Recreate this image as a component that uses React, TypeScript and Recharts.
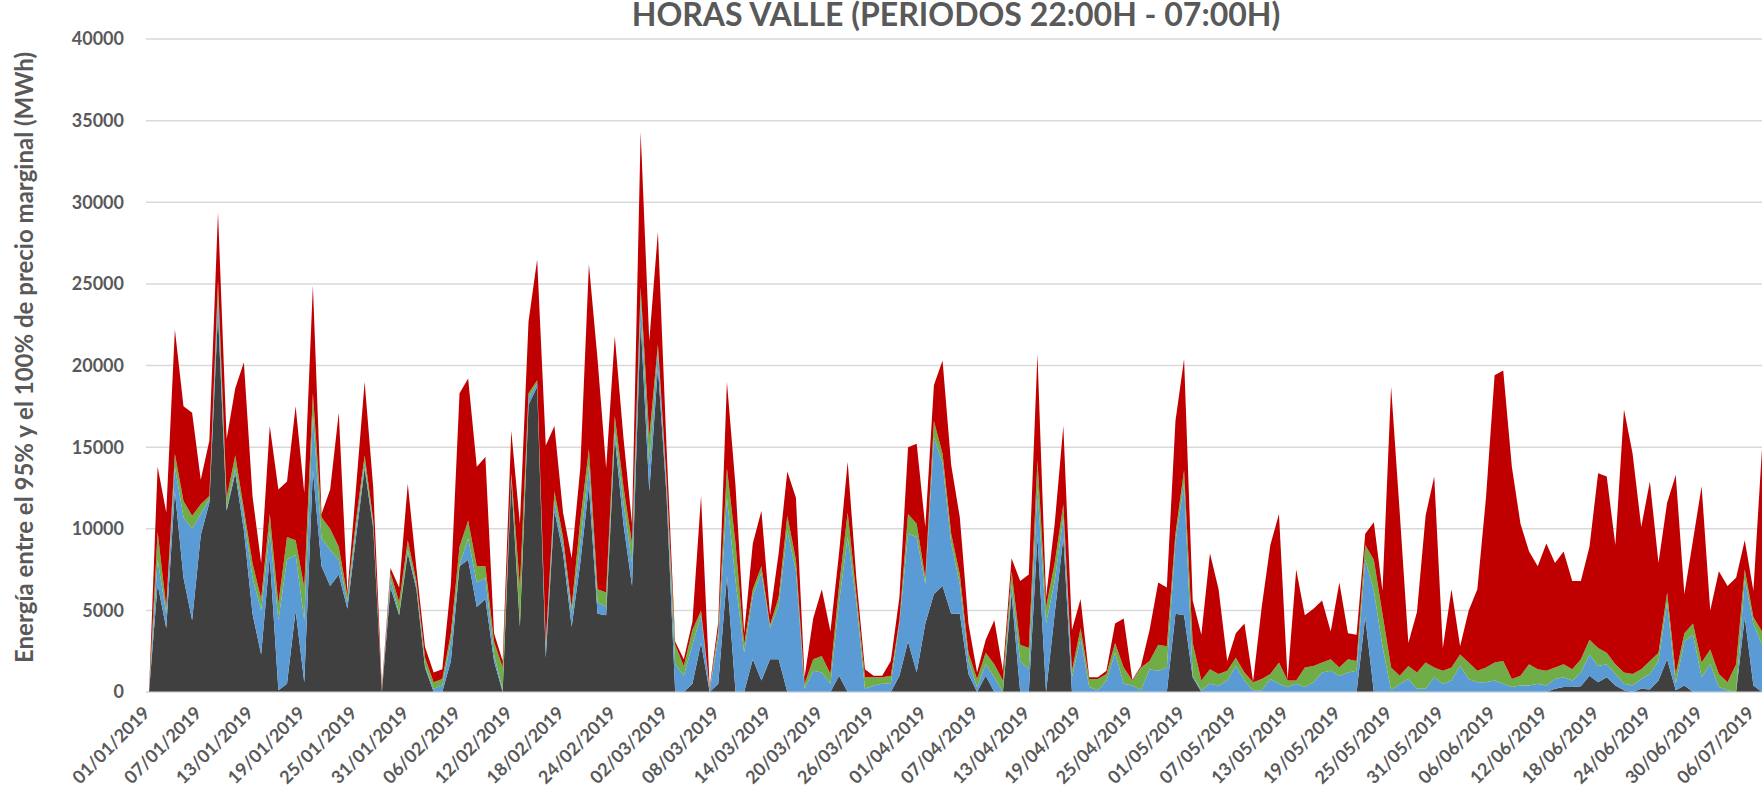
import { AreaChart, Area, XAxis, YAxis, CartesianGrid } from "recharts";

// Daily values (MWh), 01/01/2019 .. 07/07/2019, one entry per day
const gris = [
  0, 6600, 3900, 12300, 7000, 4400, 9600, 11600, 23200, 11100, 13400, 9900,
  4800, 2300, 8300, 100, 500, 5000, 600, 13600, 7700, 6500, 7200, 5100,
  9500, 13700, 10000, 0, 6400, 4700, 8500, 6300, 1500, 0, 0, 1900,
  7700, 8100, 5200, 5700, 1900, 0, 13000, 4000, 17600, 18700, 2100, 11100,
  8500, 4000, 7900, 12600, 4800, 4700, 15600, 10300, 6500, 22700, 12300, 19900,
  12000, 0, 0, 500, 3000, 0, 500, 7100, 0, 0, 2000, 700,
  2000, 2000, 0, 0, 0, 0, 0, 0, 1000, 0, 0, 0,
  0, 0, 0, 1000, 3100, 1200, 4200, 6000, 6500, 4800, 4800, 1100,
  0, 1000, 0, 0, 6000, 0, 0, 9500, 0, 4800, 9500, 0,
  0, 0, 0, 0, 0, 0, 0, 0, 0, 0, 0, 4800,
  4700, 900, 0, 0, 0, 0, 0, 0, 0, 0, 0, 0,
  0, 0, 0, 0, 0, 0, 0, 0, 0, 4600, 0, 0,
  0, 0, 0, 0, 0, 0, 0, 0, 0, 0, 0, 0,
  0, 0, 0, 0, 0, 0, 0, 200, 300, 300, 350, 1000,
  600, 900, 400, 100, 0, 200, 150, 700, 2000, 100, 400, 0,
  0, 0, 0, 0, 0, 4600, 400, 0,
];

const azul = [
  0, 1500, 900, 1500, 3700, 5600, 1300, 200, 1200, 100, 300, 800,
  2200, 2700, 1600, 4300, 7600, 3400, 3800, 3400, 1700, 2200, 900, 400,
  500, 300, 200, 50, 500, 100, 200, 200, 100, 200, 400, 1200,
  100, 1300, 1500, 1300, 400, 100, 200, 100, 400, 200, 500, 600,
  500, 800, 1200, 1300, 700, 500, 400, 1300, 1400, 1400, 1600, 1000,
  600, 1700, 1000, 2400, 1700, 100, 2800, 4800, 6800, 2400, 3900, 6600,
  1900, 3300, 9900, 7400, 200, 1300, 1200, 500, 4500, 9500, 5500, 200,
  400, 500, 500, 3200, 6600, 8300, 2400, 9600, 7500, 4300, 1800, 800,
  300, 700, 900, 0, 600, 1900, 1400, 3000, 4200, 2000, 1200, 900,
  3300, 300, 100, 700, 2400, 500, 400, 100, 1400, 1300, 1500, 4400,
  8100, 100, 100, 500, 400, 700, 1600, 700, 100, 100, 800, 500,
  300, 500, 300, 600, 1200, 1300, 1000, 1200, 1300, 3500, 6200, 2800,
  100, 500, 800, 200, 200, 900, 500, 700, 1600, 800, 600, 600,
  700, 500, 300, 400, 400, 500, 400, 600, 600, 400, 850, 1300,
  1000, 800, 700, 400, 400, 600, 950, 1200, 3500, 400, 2700, 3500,
  900, 1700, 300, 100, 0, 2300, 3800, 2900,
];

const verde = [
  0, 1700, 400, 800, 1000, 800, 600, 200, 800, 700, 800, 500,
  900, 700, 1000, 1000, 1400, 900, 2000, 1300, 1300, 1300, 800, 400,
  500, 500, 300, 50, 400, 700, 600, 300, 500, 400, 400, 500,
  1100, 1100, 1000, 700, 800, 1400, 200, 2300, 300, 200, 400, 600,
  500, 400, 1400, 1000, 800, 900, 900, 1000, 1200, 700, 1700, 400,
  400, 1200, 600, 900, 300, 100, 500, 1800, 2300, 500, 400, 400,
  200, 500, 900, 700, 300, 700, 1000, 600, 1000, 1500, 500, 700,
  500, 400, 500, 200, 1200, 800, 400, 1000, 600, 600, 600, 500,
  500, 700, 800, 700, 800, 1000, 1300, 1700, 1000, 1100, 800, 400,
  600, 500, 700, 400, 600, 1000, 300, 1400, 500, 1600, 1300, 500,
  800, 2000, 600, 900, 700, 600, 500, 500, 500, 700, 300, 1300,
  400, 200, 1200, 1000, 600, 700, 500, 800, 600, 900, 1900, 2000,
  1400, 500, 800, 1000, 1600, 600, 800, 800, 700, 1000, 700, 900,
  1100, 1400, 500, 600, 1300, 900, 900, 700, 800, 700, 800, 900,
  1100, 700, 600, 700, 700, 600, 800, 500, 600, 600, 500, 700,
  900, 900, 800, 500, 1700, 600, 400, 800,
];

const rojo = [
  0, 4000, 5800, 7600, 5800, 6300, 1500, 3400, 4200, 3600, 4100, 9000,
  4100, 2200, 5400, 7000, 3400, 8200, 5800, 6600, 200, 2400, 8200, 200,
  2000, 4500, 2000, 200, 300, 900, 3450, 800, 650, 600, 600, 3000,
  9400, 8700, 6100, 6700, 500, 400, 2600, 3900, 4400, 7400, 12100, 4000,
  1500, 3000, 3200, 11300, 14100, 7600, 4900, 3000, 1200, 9500, 5900, 6900,
  2000, 200, 400, 500, 7000, 100, 500, 5300, 3500, 700, 2800, 3400,
  600, 2700, 2700, 3800, 400, 2500, 4100, 2600, 2000, 3100, 1000, 500,
  100, 100, 900, 1400, 4100, 4900, 3100, 2200, 5700, 4200, 3500, 1800,
  400, 800, 2700, 600, 800, 3900, 4500, 6500, 600, 2400, 4800, 2500,
  1800, 100, 100, 200, 1200, 3000, 50, 100, 1900, 3800, 3600, 6900,
  6800, 2600, 2800, 7100, 5200, 600, 1500, 3000, 50, 4400, 7900, 9100,
  50, 6800, 3200, 3500, 3800, 1700, 5200, 1600, 1600, 700, 2300, 1400,
  17200, 10000, 1400, 3700, 9000, 11700, 1400, 4800, 500, 3200, 5000, 10400,
  17600, 17800, 13000, 9300, 6900, 6300, 7800, 6400, 6900, 5400, 4800, 5700,
  10700, 10800, 7300, 16100, 13500, 8700, 11000, 5500, 5500, 12200, 2400, 5100,
  10800, 2400, 6300, 5900, 5300, 1800, 1600, 11200,
];

const yTicks = [0, 5000, 10000, 15000, 20000, 25000, 30000, 35000, 40000];

const pad = (n: number) => (n < 10 ? "0" + n : "" + n);
const fechas = gris.map((_, i) => {
  const d = new Date(Date.UTC(2019, 0, 1 + i));
  return `${pad(d.getUTCDate())}/${pad(d.getUTCMonth() + 1)}/${d.getUTCFullYear()}`;
});

const data = fechas.map((fecha, i) => ({
  fecha,
  gris: gris[i],
  azul: azul[i],
  verde: verde[i],
  rojo: rojo[i],
}));

const FONT = "Lato, 'Open Sans', sans-serif";
const TXT = "#595959";

function DateTick({ x, y, payload }: any) {
  const tx = x + 2;
  const ty = y + 22;
  return (
    <text
      x={tx}
      y={ty}
      textAnchor="end"
      transform={`rotate(-45, ${tx}, ${ty})`}
      fill={TXT}
      fontSize={18}
      fontWeight={700}
      fontFamily={FONT}
    >
      {payload.value}
    </text>
  );
}

function YLabel({ viewBox }: any) {
  const cy = viewBox.y + viewBox.height / 2 - 8;
  return (
    <text
      x={33}
      y={cy}
      textAnchor="middle"
      transform={`rotate(-90, 33, ${cy})`}
      fill={TXT}
      fontSize={24}
      fontWeight={700}
      fontFamily={FONT}
    >
      Energía entre el 95% y el 100% de precio marginal (MWh)
    </text>
  );
}

export default function App() {
  return (
    <div style={{ position: "absolute", left: 0, top: 0, width: 1764, height: 797, background: "#fff" }}>

      {/* TITLE */}

      <div
        style={{
          position: "absolute",
          top: -2,
          left: 0,
          width: 1764,
          paddingLeft: 148,
          boxSizing: "border-box",
          textAlign: "center",
          fontFamily: FONT,
          fontWeight: 700,
          fontSize: 32,
          lineHeight: "32px",
          color: TXT,
          whiteSpace: "nowrap",
        }}
      >
        HORAS VALLE (PERIODOS 22:00H - 07:00H)
      </div>

      {/* CHART */}

      <AreaChart
        width={1764}
        height={797}
        data={data}
        margin={{ top: 39, right: 2, left: 0, bottom: 0 }}
      >
        <CartesianGrid vertical={false} stroke="#d9d9d9" strokeWidth={1.5} />

        <XAxis
          dataKey="fecha"
          interval={5}
          height={105}
          tickLine={false}
          tickSize={0}
          tickMargin={0}
          stroke="#d9d9d9"
          padding={{ left: 3, right: 0 }}
          tick={<DateTick />}
        />

        <YAxis
          width={146}
          domain={[0, 40000]}
          ticks={yTicks}
          axisLine={false}
          tickLine={false}
          tickSize={0}
          tickMargin={22}
          tick={{ fill: TXT, fontSize: 18, fontWeight: 700, fontFamily: FONT }}
          label={<YLabel />}
        />

        <Area type="linear" dataKey="gris" stackId="1" stroke="none" fill="#404040" fillOpacity={1} isAnimationActive={false} />
        <Area type="linear" dataKey="azul" stackId="1" stroke="none" fill="#5B9BD5" fillOpacity={1} isAnimationActive={false} />
        <Area type="linear" dataKey="verde" stackId="1" stroke="none" fill="#70AD47" fillOpacity={1} isAnimationActive={false} />
        <Area type="linear" dataKey="rojo" stackId="1" stroke="none" fill="#C00000" fillOpacity={1} isAnimationActive={false} />

      </AreaChart>

    </div>
  );
}
